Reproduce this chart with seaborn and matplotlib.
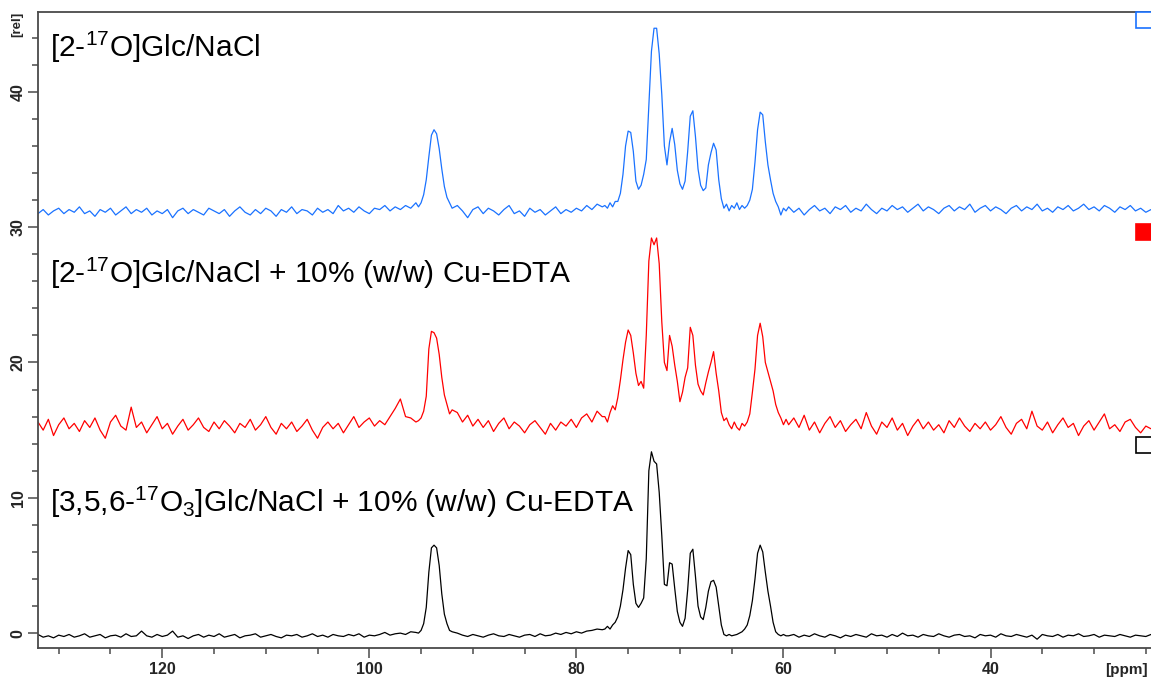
import numpy as np
import pandas as pd
import matplotlib
matplotlib.use("Agg")
import matplotlib.pyplot as plt
from matplotlib.ticker import MultipleLocator
import seaborn as sns

# ---------------- data ----------------
# sampling grid (ppm): (start, stop, step) segments
PPM_SEGMENTS = [(132.0, 95.5, 0.5), (95.25, 92.0, 0.25), (91.5, 77.5, 0.5),
                (77.25, 59.75, 0.25), (59.5, 24.5, 0.5)]

SERIES_NAMES = ["[2-17O]Glc/NaCl",
                "[2-17O]Glc/NaCl + 10% (w/w) Cu-EDTA",
                "[3,5,6-17O3]Glc/NaCl + 10% (w/w) Cu-EDTA"]

blue_A = [31.0, 31.3, 30.9, 31.2, 31.4, 31.0, 31.3, 31.1, 31.5, 31.0,
          31.2, 30.8, 31.3, 31.1, 31.4, 30.9, 31.2, 31.5, 31.0, 31.3,
          31.1, 31.4, 30.9, 31.2, 31.0, 31.3, 30.7, 31.2, 31.4, 31.0,
          31.3, 31.1, 30.9, 31.4, 31.2, 31.0, 31.3, 30.8, 31.2, 31.5,
          31.1, 30.9, 31.3, 31.0, 31.4, 31.2, 30.8, 31.3, 31.1, 31.5,
          31.0, 31.3, 31.2, 30.9, 31.4, 31.1, 31.3, 31.0, 31.6, 31.2,
          31.4, 31.1, 31.5, 31.2, 31.0, 31.4, 31.3, 31.6, 31.2, 31.5,
          31.3, 31.6, 31.4, 31.8]
blue_B = [31.5, 31.8, 32.4, 33.5, 35.2, 36.8, 37.2, 36.9, 35.8, 34.3, 33.0, 32.2, 31.8, 31.4]
blue_C = [31.6, 31.2, 30.7, 31.3, 31.5, 31.0, 31.4, 31.2, 30.9, 31.3,
          31.6, 31.0, 31.2, 30.8, 31.4, 31.1, 31.3, 30.9, 31.2, 31.5,
          31.0, 31.3, 31.1, 31.4, 31.2, 31.6, 31.3, 31.7, 31.5]
blue_D = [31.6, 31.4, 31.8, 31.5, 31.9, 31.9, 32.5, 33.9, 36.0, 37.1,
          37.0, 35.6, 33.4, 32.8, 33.1, 33.9, 35.0, 39.0, 43.0, 44.7,
          44.7, 42.8, 39.8, 36.0, 34.6, 36.3, 37.3, 36.1, 34.2, 33.2,
          32.8, 33.4, 35.6, 38.2, 38.6, 36.7, 34.3, 33.1, 32.7, 32.9,
          34.6, 35.5, 36.2, 35.7, 33.5, 32.1, 31.4, 31.7, 31.2, 31.6,
          31.4, 31.8, 31.3, 31.6, 31.4, 31.6, 32.0, 32.8, 34.8, 37.2,
          38.5, 38.3, 36.3, 34.6, 33.5, 32.5, 31.9, 31.5, 30.9, 31.4,
          31.2]
blue_E = [31.5, 31.1, 31.4, 30.9, 31.3, 31.6, 31.2, 31.4, 31.0, 31.5,
          31.3, 31.6, 31.1, 31.4, 31.2, 31.7, 31.3, 31.0, 31.4, 31.2,
          31.6, 31.3, 31.5, 31.1, 31.4, 31.7, 31.2, 31.5, 31.3, 31.0,
          31.4, 31.6, 31.2, 31.5, 31.3, 31.7, 31.1, 31.4, 31.6, 31.2,
          31.5, 31.3, 31.0, 31.4, 31.6, 31.2, 31.5, 31.3, 31.7, 31.2,
          31.4, 31.1, 31.5, 31.3, 31.6, 31.2, 31.4, 31.7, 31.3, 31.5,
          31.2, 31.6, 31.4, 31.1, 31.5, 31.3, 31.6, 31.2, 31.4, 31.1,
          31.3]

red_A = [15.6, 15.0, 15.8, 14.6, 15.4, 15.9, 15.1, 15.5, 14.9, 15.7,
         15.2, 15.9, 15.0, 14.4, 15.6, 16.1, 15.3, 15.0, 16.7, 15.2,
         15.6, 14.8, 15.4, 16.0, 15.1, 15.5, 14.7, 15.3, 15.8, 15.0,
         15.4, 15.9, 15.2, 14.9, 15.6, 15.1, 15.7, 15.3, 14.8, 15.5,
         15.2, 15.8, 15.0, 15.4, 16.0, 15.2, 14.7, 15.5, 15.1, 15.6,
         14.9, 15.3, 15.8, 15.0, 14.4, 15.2, 15.6, 15.1, 15.5, 14.8,
         15.4, 16.0, 15.2, 15.6, 15.9, 15.3, 15.7, 15.4, 16.0, 16.6,
         17.3, 16.0, 15.9, 15.6]
red_B = [15.7, 15.9, 16.4, 17.5, 21.0, 22.3, 22.2, 21.8, 20.6, 18.9, 17.6, 16.9, 16.2, 16.5]
red_C = [16.3, 15.6, 16.1, 15.3, 15.8, 15.2, 15.7, 14.9, 15.5, 15.9,
         15.1, 15.6, 15.3, 14.8, 15.4, 15.7, 15.2, 14.7, 15.5, 15.0,
         15.6, 15.3, 15.8, 15.2, 15.9, 16.2, 15.6, 16.4, 16.0]
red_D = [16.0, 15.6, 16.3, 16.8, 16.5, 17.4, 18.7, 20.2, 21.5, 22.4,
         22.0, 20.7, 19.2, 18.3, 18.6, 18.1, 22.0, 27.5, 29.2, 28.7,
         29.2, 27.3, 23.0, 20.0, 19.4, 22.0, 21.2, 19.8, 18.6, 17.1,
         17.8, 18.9, 19.6, 22.6, 22.0, 19.8, 18.4, 17.9, 17.6, 18.5,
         19.3, 20.0, 20.8, 19.2, 17.9, 16.3, 15.7, 15.9, 15.4, 15.1,
         15.6, 15.2, 15.0, 15.5, 15.3, 15.6, 16.2, 17.8, 19.5, 22.0,
         22.9, 21.9, 20.0, 19.3, 18.6, 17.9, 16.9, 16.3, 15.9, 15.4,
         15.8]
red_E = [15.4, 15.9, 15.2, 16.1, 15.0, 15.6, 14.8, 15.5, 16.0, 15.2,
         15.7, 14.9, 15.4, 15.8, 15.1, 16.3, 15.3, 14.7, 15.6, 15.2,
         15.9, 15.0, 15.5, 14.6, 15.3, 15.8, 15.1, 15.6, 15.0, 15.4,
         14.8, 15.7, 15.2, 15.9, 15.3, 14.9, 15.5, 15.1, 15.6, 15.0,
         15.4, 16.0, 15.2, 14.7, 15.5, 15.8, 15.1, 16.4, 15.3, 15.0,
         15.6, 14.8, 15.4, 15.9, 15.2, 15.5, 14.6, 15.3, 15.7, 15.0,
         15.6, 16.2, 15.1, 15.4, 14.9, 15.6, 15.8, 15.2, 14.8, 15.3,
         15.1]

black_A = [-0.1, -0.3, -0.2, -0.35, -0.15, -0.25, -0.1, -0.3, -0.2, -0.05,
           -0.3, -0.2, -0.1, -0.35, -0.2, -0.15, -0.3, -0.05, -0.25, -0.2,
           0.15, -0.2, -0.3, -0.1, -0.25, -0.15, 0.15, -0.3, -0.2, -0.4,
           -0.2, -0.1, -0.3, -0.15, -0.25, -0.05, -0.3, -0.2, -0.1, -0.35,
           -0.2, -0.15, -0.05, -0.3, -0.2, -0.1, -0.25, -0.35, -0.15, -0.2,
           -0.1, -0.3, -0.2, -0.05, -0.25, -0.15, -0.3, -0.1, -0.2, -0.25,
           -0.1, -0.2, -0.05, -0.3, -0.15, -0.2, -0.1, 0.05, -0.15, -0.05,
           0.0, -0.1, 0.1, 0.05]
black_B = [0.0, 0.2, 0.7, 1.9, 4.5, 6.3, 6.5, 6.3, 5.0, 2.9, 1.4, 0.7, 0.2, 0.1]
black_C = [0.0, -0.15, -0.25, -0.1, -0.2, -0.3, -0.15, -0.05, -0.2, -0.25,
           -0.1, -0.2, -0.3, -0.15, -0.1, -0.25, -0.05, -0.2, -0.15, 0.0,
           -0.1, 0.05, -0.05, 0.1, 0.0, 0.15, 0.2, 0.3, 0.25]
black_D = [0.3, 0.5, 0.3, 0.6, 0.8, 1.2, 2.0, 3.2, 4.8, 6.1,
           5.8, 3.6, 2.2, 1.9, 2.2, 2.6, 5.5, 12.0, 13.4, 12.7,
           12.5, 10.4, 7.2, 3.6, 3.5, 5.2, 5.1, 3.3, 1.6, 0.8,
           0.5, 1.1, 3.2, 5.9, 6.2, 4.2, 2.0, 1.2, 1.0, 1.9,
           3.1, 3.8, 3.9, 3.4, 2.0, 0.6, -0.1, -0.2, -0.1, -0.2,
           -0.15, -0.1, 0.0, 0.1, 0.3, 0.6, 1.3, 2.4, 4.0, 5.9,
           6.5, 6.0, 4.5, 3.1, 2.0, 0.8, 0.1, -0.1, -0.2, -0.1,
           -0.2]
black_E = [-0.2, -0.1, -0.3, -0.15, -0.25, -0.05, -0.2, -0.3, -0.1, -0.2,
           -0.35, -0.15, -0.25, -0.1, -0.2, -0.3, -0.05, -0.2, -0.15, -0.3,
           -0.1, -0.25, 0.0, -0.2, -0.15, -0.3, -0.1, -0.2, -0.25, -0.05,
           -0.2, -0.3, -0.15, -0.1, -0.25, -0.2, -0.35, -0.1, -0.2, -0.15,
           -0.3, -0.05, -0.2, -0.25, -0.1, -0.2, -0.3, -0.15, -0.45, -0.1,
           -0.2, -0.25, -0.1, -0.3, -0.15, -0.2, -0.05, -0.25, -0.2, -0.1,
           -0.3, -0.15, -0.2, -0.25, -0.1, -0.2, -0.3, -0.15, -0.2, -0.25,
           -0.1]

X_TICKS = [120, 100, 80, 60, 40]
Y_TICKS = [0, 10, 20, 30, 40]

# ---------------- build table ----------------
ppm = np.concatenate([np.round(np.arange(a, b - s / 2, -s), 3) for a, b, s in PPM_SEGMENTS])
blue = blue_A + blue_B + blue_C + blue_D + blue_E
red = red_A + red_B + red_C + red_D + red_E
black = black_A + black_B + black_C + black_D + black_E

frames = []
for name, vals in zip(SERIES_NAMES, [blue, red, black]):
    frames.append(pd.DataFrame({"ppm": ppm, "intensity": vals, "sample": name}))
df = pd.concat(frames, ignore_index=True)

BLUE, RED, BLACK = "#1a72ff", "#ff0000", "#000000"
palette = dict(zip(SERIES_NAMES, [BLUE, RED, BLACK]))

# ---------------- plot ----------------
sns.set_theme(style="white")
plt.rcParams["font.family"] = ["Liberation Sans", "DejaVu Sans"]
plt.rcParams["mathtext.fontset"] = "custom"
plt.rcParams["mathtext.rm"] = "Liberation Sans"
plt.rcParams["mathtext.it"] = "Liberation Sans:italic"
plt.rcParams["mathtext.bf"] = "Liberation Sans:bold"

fig = plt.figure(figsize=(11.51, 6.79), dpi=100)
ax = fig.add_axes([38 / 1151, 31 / 679, 1113 / 1151, 636 / 679])

sns.lineplot(data=df, x="ppm", y="intensity", hue="sample", palette=palette,
             estimator=None, sort=False, linewidth=0.9, legend=False, ax=ax)

ax.set_xlim(132.0, 24.5)
ax.set_ylim(-1.1, 45.9)
ax.set_xlabel("")
ax.set_ylabel("")

ax.set_xticks(X_TICKS)
ax.set_yticks(Y_TICKS)
ax.xaxis.set_minor_locator(MultipleLocator(5))
ax.yaxis.set_minor_locator(MultipleLocator(2))
spine_col = "#4a4a4a"
ax.tick_params(axis="both", which="major", direction="out", length=7, width=1.1,
               color=spine_col, labelsize=11.5, pad=3, bottom=True, left=True)
ax.tick_params(axis="both", which="minor", direction="out", length=4.5, width=1.1,
               color=spine_col, bottom=True, left=True)
ax.tick_params(axis="y", labelrotation=90, pad=2)
for lab in ax.get_xticklabels() + ax.get_yticklabels():
    lab.set_fontweight("bold")
for lab in ax.get_yticklabels():
    lab.set_va("center")

for side in ["left", "bottom", "top"]:
    ax.spines[side].set_visible(True)
    ax.spines[side].set_color(spine_col)
    ax.spines[side].set_linewidth(1.3)
ax.spines["right"].set_visible(False)
ax.grid(False)

# unit labels
fig.text(1148 / 1151, 1 - 670 / 679, "[ppm]", ha="right", va="center",
         fontsize=11, fontweight="bold")
fig.text(17 / 1151, 1 - 24 / 679, "[rel]", ha="center", va="center",
         rotation=90, fontsize=9.5, fontweight="bold")

# sample labels
labels = [r"[2-$\mathregular{^{17}}$O]Glc/NaCl",
          r"[2-$\mathregular{^{17}}$O]Glc/NaCl + 10% (w/w) Cu-EDTA",
          r"[3,5,6-$\mathregular{^{17}}$O$\mathregular{_3}$]Glc/NaCl + 10% (w/w) Cu-EDTA"]
label_y = [0.929, 0.574, 0.214]
for txt, yy in zip(labels, label_y):
    ax.text(0.0108, yy, txt, transform=ax.transAxes, fontsize=21.5,
            ha="left", va="baseline", color="black")

# TopSpin-style spectrum indicators on the right edge
ind_y = [0.987, 0.654, 0.319]
for col, yy, filled in zip([BLUE, RED, BLACK], ind_y, [False, True, False]):
    ax.plot([0.9937], [yy], transform=ax.transAxes, marker="s", ms=11.5,
            mfc=col if filled else "white", mec=col, mew=1.2,
            clip_on=False, linestyle="none", zorder=5)

fig.savefig("out.png", dpi=100)
